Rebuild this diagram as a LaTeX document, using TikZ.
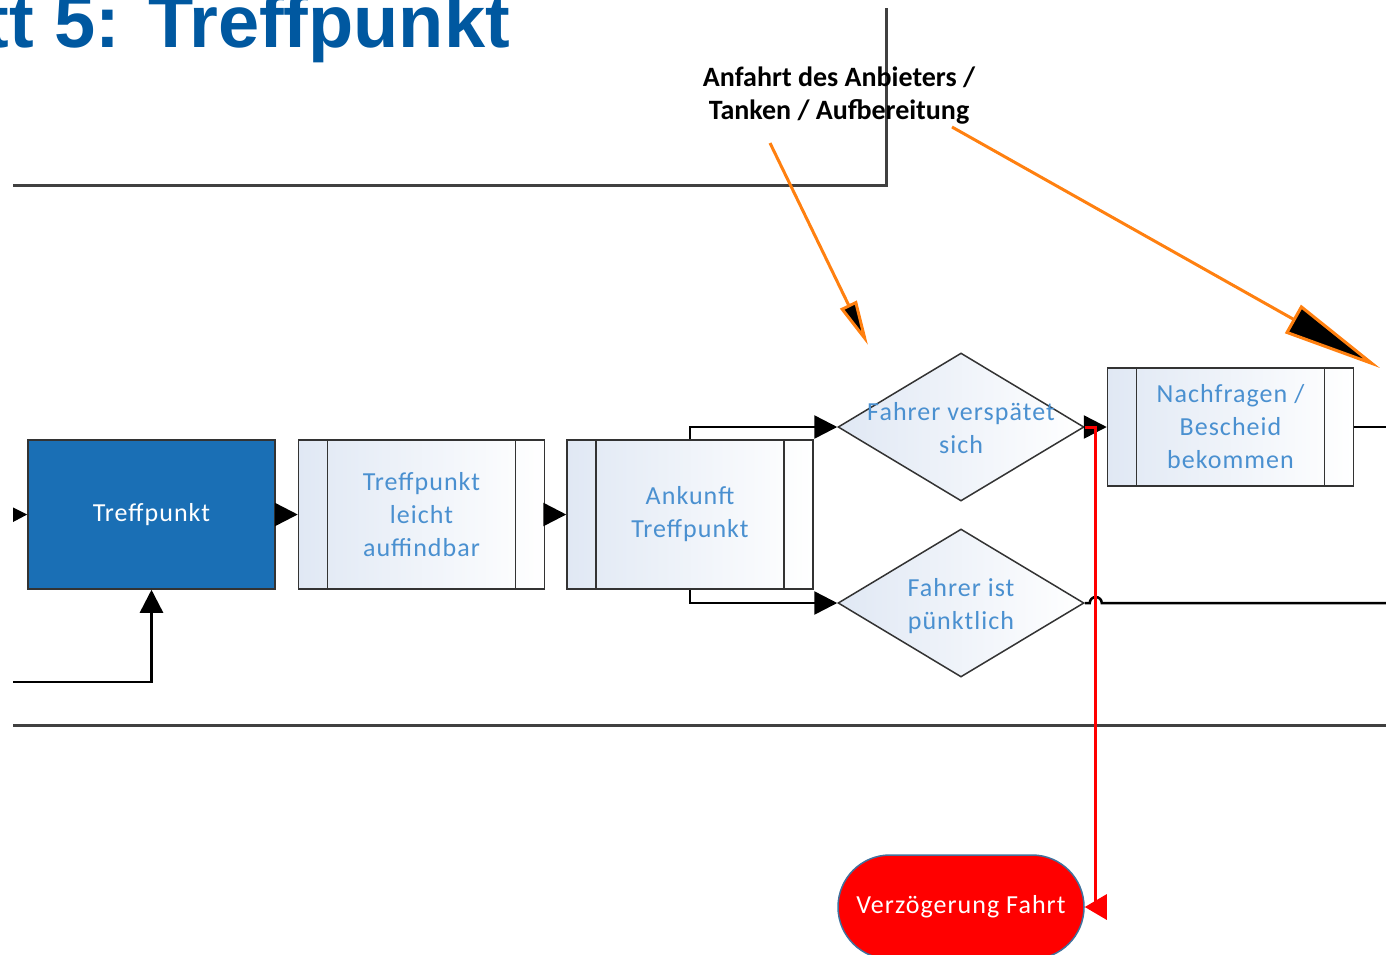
\documentclass[tikz,border=0pt]{standalone}
\usepackage{fontspec}
\setmainfont{Carlito}
\newfontfamily\titlefont{Liberation Sans}
\usepackage{xcolor}
\usepackage{tikz}
\usetikzlibrary{positioning,calc,shapes.geometric,arrows.meta}
\definecolor{TitleBlue}{RGB}{0,88,160}
\definecolor{StepBlue}{RGB}{26,111,181}
\definecolor{StepText}{RGB}{74,144,208}
\definecolor{FrameGray}{RGB}{64,64,64}
\definecolor{ProcFill}{RGB}{224,232,244}
\definecolor{HintOrange}{RGB}{255,128,16}
\definecolor{TermBorder}{RGB}{65,113,156}
\newcommand{\dtext}[1]{\raisebox{-3pt}[\height][\depth]{\makebox[0pt]{\begin{tabular}{@{}c@{}}#1\end{tabular}}}}
\tikzset{
    boxfont/.style={font=\fontsize{26}{33}\selectfont\addfontfeature{LetterSpace=4}},
    flow/.style={draw=black, line width=2.5pt, -{Triangle[length=23pt,width=23pt]}},
    frame/.style={draw=FrameGray, line width=3pt}
}

\begin{document}
\begin{tikzpicture}[
        x=1pt, y=-1pt,
        % Hauptschritt: blau gefüllt, weiße Schrift
        mainstep/.style={
            rectangle,
            draw=black!80,
            line width=1.5pt,
            fill=StepBlue,
            text=white,
            boxfont,
            minimum width=247pt,
            minimum height=149pt
        },
        % Teilprozess: Rechteck mit zwei Balken
        procbox/.style={
            rectangle,
            draw=black!80,
            line width=1.5pt,
            left color=ProcFill,
            right color=white,
            text=StepText,
            boxfont,
            align=center,
            minimum width=246pt,
            minimum height=149pt,
            path picture={
                \draw[black!80, line width=1.5pt]
                    ($(path picture bounding box.north west)+(29pt,0pt)$) -- ($(path picture bounding box.south west)+(29pt,0pt)$)
                    ($(path picture bounding box.north east)+(-29pt,0pt)$) -- ($(path picture bounding box.south east)+(-29pt,0pt)$);
            }
        },
        % Entscheidung: Raute
        decision/.style={
            diamond,
            draw=black!80,
            line width=1.5pt,
            left color=ProcFill,
            right color=white,
            text=StepText,
            boxfont,
            inner sep=0pt,
            minimum width=246pt,
            minimum height=148pt
        },
        % Ende: rote Kapsel
        terminal/.style={
            rectangle,
            rounded corners=52pt,
            draw=TermBorder,
            line width=1.5pt,
            fill=red,
            text=white,
            boxfont,
            minimum width=246pt,
            minimum height=104pt
        },
        hint/.style={font=\bfseries\fontsize{28}{33}\selectfont, align=center},
        hintarrow/.style={draw=HintOrange, line width=3pt},
        alarm/.style={draw=red, line width=3pt, -{Triangle[length=22pt,width=25pt]}}
    ]

        \useasboundingbox (0,0) rectangle (1386,954);
        \clip (0,0) rectangle (1386,954);

        % --- TITEL ---
        \node[anchor=base east, inner sep=0pt, text=TitleBlue,
              font=\titlefont\bfseries\fontsize{74}{74}\selectfont] (titel) at (510,47) {Schritt 5: Treffpunkt};

        \begin{scope}
        \clip (13,0) rectangle (1386,954);

        % Rahmen und Bahnlinie
        \draw[frame] (886,8) -- (886,185) -- (0,185);
        \draw[frame] (0,725) -- (1400,725);

        % --- KNOTEN ---
        \node[mainstep] (treff) at (151.5,514.5) {Treffpunkt};
        \node[procbox, right=22pt of treff] (leicht) {Treffpunkt\\leicht\\auffindbar};
        \node[procbox, right=21pt of leicht] (ankunft) {Ankunft\\Treffpunkt};
        \node[decision] (spaet) at (961,427) {\dtext{Fahrer verspätet\\sich}};
        \node[decision] (puenkt) at (961,603) {\dtext{Fahrer ist\\pünktlich}};
        \node[procbox, minimum height=118pt] (nachfr) at (1230.5,427) {Nachfragen /\\Bescheid\\bekommen};
        \node[terminal] (verz) at (961,907) {Verzögerung Fahrt};
        \node[hint] (anfahrt) at (839,96) {Anfahrt des Anbieters /\\Tanken / Aufbereitung};

        % freie Enden
        \coordinate (inLeft) at (-20,515);
        \coordinate (inLoop) at (-20,682);
        \coordinate (outNach) at (1400,427);
        \coordinate (outPunkt) at (1400,603);
        \coordinate (hintA) at (770,143);
        \coordinate (hintAend) at (868,345);
        \coordinate (hintB) at (952,127);
        \coordinate (hintBend) at (1380,368);

        % --- VERBINDUNGEN ---
        \draw[flow] (inLeft) -- (treff.west);
        \draw[flow] (inLoop) -| (treff.south);
        \draw[flow] (treff) -- (leicht);
        \draw[flow] (leicht) -- (ankunft);
        \draw[flow] (ankunft.north) |- (spaet.west);
        \draw[flow] (ankunft.south) |- (puenkt.west);
        \draw[flow] (spaet.east) -- (nachfr.west);
        \draw[line width=2.5pt] (nachfr.east) -- (outNach);
        \draw[line width=2.5pt] (puenkt.east) -- ++(5,0)
            arc[start angle=180, end angle=360, radius=6] -- (outPunkt);
        \draw[alarm] (spaet.east) -- ++(11,0) |- (verz.east);

        % Hinweis-Pfeile
        \draw[hintarrow, -{Triangle[length=45pt,width=18pt,fill=black]}] (hintA) -- (hintAend);
        \draw[hintarrow, -{Triangle[length=100pt,width=32pt,fill=black]}] (hintB) -- (hintBend);
        \end{scope}

    \end{tikzpicture}
\end{document}
